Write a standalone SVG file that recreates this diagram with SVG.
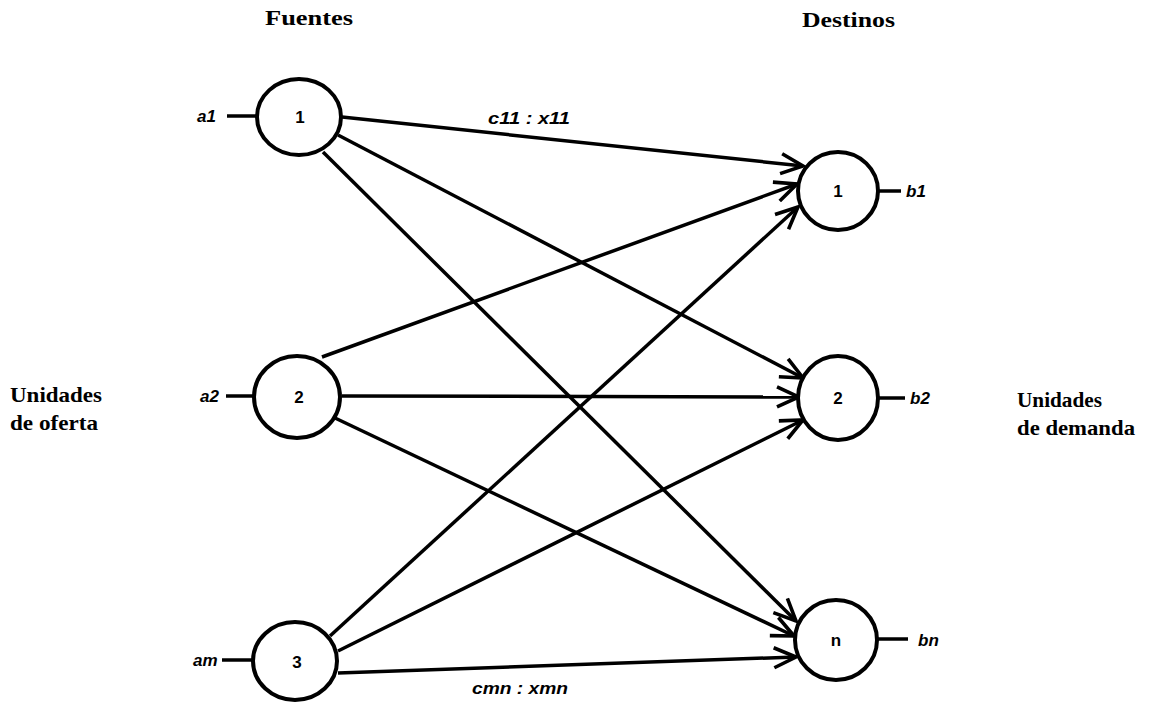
<svg xmlns="http://www.w3.org/2000/svg" width="1149" height="702" viewBox="0 0 1149 702">
  <style>
    .title { font-family: "Liberation Serif", "Times New Roman", serif; font-weight: bold; font-size: 22px; fill: #000; }
    .side { font-family: "Liberation Serif", "Times New Roman", serif; font-weight: bold; font-size: 21px; fill: #000; }
    .lbl { font-family: "Liberation Sans", Arial, sans-serif; font-weight: bold; font-style: italic; font-size: 17px; fill: #000; }
    .num { font-family: "Liberation Sans", Arial, sans-serif; font-weight: bold; font-size: 17px; fill: #000; text-anchor: middle; dominant-baseline: central; }
    .node { fill: #fff; stroke: #000; stroke-width: 4; }
    .stub { stroke: #000; stroke-width: 3.5; }
    .edge { stroke: #000; stroke-width: 3.5; fill: none; marker-end: url(#open); }
  </style>
  <defs>
    <marker id="open" viewBox="0 0 28 24" refX="25" refY="12" markerWidth="28" markerHeight="24" markerUnits="userSpaceOnUse" orient="auto">
      <path d="M3,2 L25,12 L3,22" fill="none" stroke="#000" stroke-width="3.6" stroke-linejoin="miter"/>
    </marker>
  </defs>
  <rect width="1149" height="702" fill="#fff"/>

  <!-- headings -->
  <text class="title" x="265" y="25" textLength="88" lengthAdjust="spacingAndGlyphs">Fuentes</text>
  <text class="title" x="802" y="27" textLength="93" lengthAdjust="spacingAndGlyphs">Destinos</text>
  <text class="side" x="10" y="402" textLength="92" lengthAdjust="spacingAndGlyphs">Unidades</text>
  <text class="side" x="10" y="430" textLength="88" lengthAdjust="spacingAndGlyphs">de oferta</text>
  <text class="side" x="1017" y="407" textLength="85" lengthAdjust="spacingAndGlyphs">Unidades</text>
  <text class="side" x="1017" y="435" textLength="118" lengthAdjust="spacingAndGlyphs">de demanda</text>

  <!-- supply / demand stubs and labels -->
  <g id="stubs">
    <line class="stub" x1="227" y1="116" x2="258" y2="116"/>
    <line class="stub" x1="226" y1="396" x2="254" y2="396"/>
    <line class="stub" x1="222" y1="660" x2="254" y2="660"/>
    <line class="stub" x1="878" y1="191" x2="901" y2="191"/>
    <line class="stub" x1="878" y1="398" x2="905" y2="398"/>
    <line class="stub" x1="877" y1="639" x2="908" y2="639"/>
    <text class="lbl" x="197" y="122">a1</text>
    <text class="lbl" x="200" y="402">a2</text>
    <text class="lbl" x="193" y="666">am</text>
    <text class="lbl" x="906" y="197">b1</text>
    <text class="lbl" x="910" y="404">b2</text>
    <text class="lbl" x="918" y="646">bn</text>
  </g>

  <!-- transport arcs: every source to every destination -->
  <g id="connectors">
    <path class="edge" d="M342,117 L803,166"/>
    <path class="edge" d="M338,135 L803,378"/>
    <path class="edge" d="M323,152 L796,621"/>
    <path class="edge" d="M322,357 L797,184"/>
    <path class="edge" d="M342,396 L799,397"/>
    <path class="edge" d="M335,418 L794,636"/>
    <path class="edge" d="M330,636 L798,207"/>
    <path class="edge" d="M338,651 L803,420"/>
    <path class="edge" d="M338,673 L796,657"/>
    <text class="lbl" x="488" y="124" textLength="82" lengthAdjust="spacingAndGlyphs">c11 : x11</text>
    <text class="lbl" x="472" y="694" textLength="96" lengthAdjust="spacingAndGlyphs">cmn : xmn</text>
  </g>

  <!-- source nodes -->
  <g id="src1"><ellipse class="node" cx="299" cy="117" rx="42" ry="38"/><text class="num" x="300" y="117">1</text></g>
  <g id="src2"><ellipse class="node" cx="297" cy="397" rx="43" ry="41"/><text class="num" x="299" y="397">2</text></g>
  <g id="src3"><ellipse class="node" cx="295" cy="661" rx="42" ry="39"/><text class="num" x="297" y="662">3</text></g>

  <!-- destination nodes -->
  <g id="dst1"><ellipse class="node" cx="838" cy="191" rx="40" ry="39"/><text class="num" x="838" y="191">1</text></g>
  <g id="dst2"><ellipse class="node" cx="838" cy="398" rx="40" ry="42"/><text class="num" x="838" y="398">2</text></g>
  <g id="dst3"><ellipse class="node" cx="836" cy="640" rx="41" ry="40"/><text class="num" x="836" y="640">n</text></g>
</svg>
